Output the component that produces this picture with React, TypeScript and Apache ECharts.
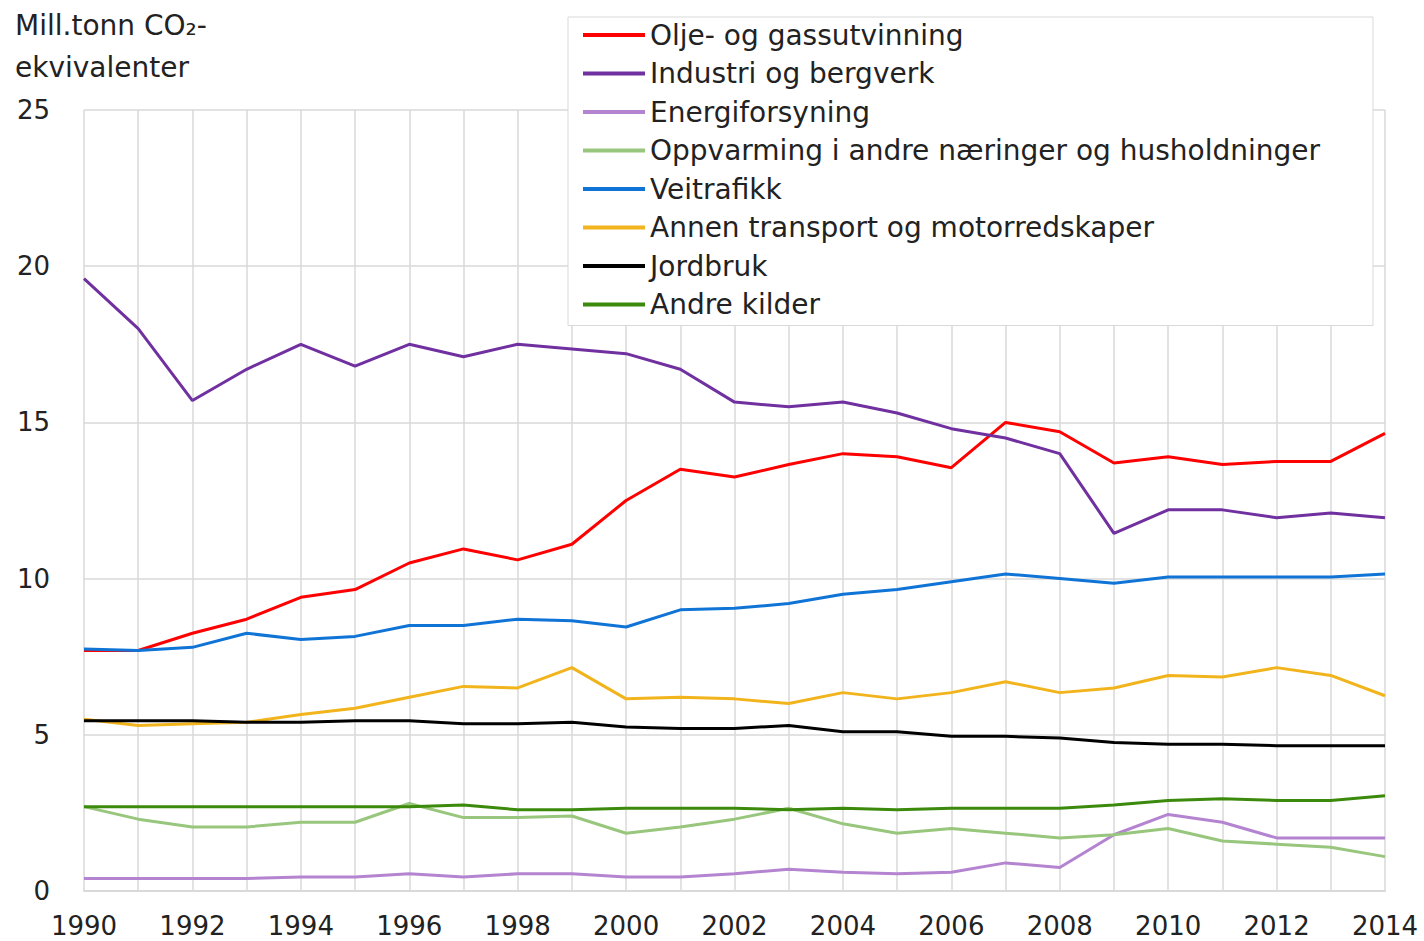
import React, { useEffect, useRef } from "react";
import * as echarts from "echarts";

const years = [
  "1990","1991","1992","1993","1994","1995","1996","1997","1998","1999","2000","2001","2002",
  "2003","2004","2005","2006","2007","2008","2009","2010","2011","2012","2013","2014",
];

const seriesNames = [
  "Olje- og gassutvinning",
  "Industri og bergverk",
  "Energiforsyning",
  "Oppvarming i andre næringer og husholdninger",
  "Veitrafikk",
  "Annen transport og motorredskaper",
  "Jordbruk",
  "Andre kilder",
];

const oljeGass = [7.7,7.7,8.25,8.7,9.4,9.65,10.5,10.95,10.6,11.1,12.5,13.5,13.25,13.65,14.0,13.9,13.55,15.0,14.7,13.7,13.9,13.65,13.75,13.75,14.65];
const industri = [19.6,18.0,15.7,16.7,17.5,16.8,17.5,17.1,17.5,17.35,17.2,16.7,15.65,15.5,15.65,15.3,14.8,14.5,14.0,11.45,12.2,12.2,11.95,12.1,11.95];
const energi = [0.4,0.4,0.4,0.4,0.45,0.45,0.55,0.45,0.55,0.55,0.45,0.45,0.55,0.7,0.6,0.55,0.6,0.9,0.75,1.8,2.45,2.2,1.7,1.7,1.7];
const oppvarming = [2.7,2.3,2.05,2.05,2.2,2.2,2.8,2.35,2.35,2.4,1.85,2.05,2.3,2.65,2.15,1.85,2.0,1.85,1.7,1.8,2.0,1.6,1.5,1.4,1.1];
const veitrafikk = [7.75,7.7,7.8,8.25,8.05,8.15,8.5,8.5,8.7,8.65,8.45,9.0,9.05,9.2,9.5,9.65,9.9,10.15,10.0,9.85,10.05,10.05,10.05,10.05,10.15];
const annenTransport = [5.5,5.3,5.35,5.4,5.65,5.85,6.2,6.55,6.5,7.15,6.15,6.2,6.15,6.0,6.35,6.15,6.35,6.7,6.35,6.5,6.9,6.85,7.15,6.9,6.25];
const jordbruk = [5.45,5.45,5.45,5.4,5.4,5.45,5.45,5.35,5.35,5.4,5.25,5.2,5.2,5.3,5.1,5.1,4.95,4.95,4.9,4.75,4.7,4.7,4.65,4.65,4.65];
const andreKilder = [2.7,2.7,2.7,2.7,2.7,2.7,2.7,2.75,2.6,2.6,2.65,2.65,2.65,2.6,2.65,2.6,2.65,2.65,2.65,2.75,2.9,2.95,2.9,2.9,3.05];

const seriesData = [oljeGass, industri, energi, oppvarming, veitrafikk, annenTransport, jordbruk, andreKilder];
const colors = ["#ff0000", "#7030a0", "#b484d0", "#97c67c", "#0f74d6", "#f2b41c", "#000000", "#3c8a0c"];

const yTicks = { min: 0, max: 25, interval: 5 };

export default function App() {
  const ref = useRef<HTMLDivElement>(null);
  useEffect(() => {
    if (!ref.current) return;
    document.body.style.margin = "0";
    const chart = echarts.init(ref.current, null, { renderer: "svg" });
    const font = "'DejaVu Sans', sans-serif";
    const fs = 26;
    const fsText = 28;
    chart.setOption({
      animation: false,
      backgroundColor: "#ffffff",
      textStyle: { fontFamily: font },
      title: {
        text: "Mill.tonn CO₂-\nekvivalenter",
        left: 15,
        top: 4,
        padding: 0,
        textStyle: { fontFamily: font, fontSize: fsText, fontWeight: "normal", color: "#222", lineHeight: 42 },
      },
      legend: {
        orient: "vertical",
        left: 568,
        top: 17,
        padding: [3, 53, 6, 15],
        backgroundColor: "#ffffff",
        borderColor: "#d9d9d9",
        borderWidth: 1,
        itemWidth: 62,
        itemHeight: 4,
        itemGap: 8.5,
        icon: "rect",
        textStyle: { fontFamily: font, fontSize: fsText, color: "#222", lineHeight: 30 },
        data: seriesNames,
      },
      grid: { left: 84, right: 39, top: 110, bottom: 50, containLabel: false },
      xAxis: {
        type: "category",
        data: years,
        boundaryGap: false,
        axisLine: { lineStyle: { color: "#d9d9d9", width: 2 } },
        axisTick: { show: false },
        axisLabel: { interval: 1, fontSize: fs, color: "#222", margin: 22, fontFamily: font },
        splitLine: { show: true, interval: 0, lineStyle: { color: "#d9d9d9", width: 1.5 } },
      },
      yAxis: {
        type: "value",
        min: yTicks.min,
        max: yTicks.max,
        interval: yTicks.interval,
        axisLine: { show: false },
        axisTick: { show: false },
        axisLabel: { fontSize: fs, color: "#222", margin: 34, fontFamily: font },
        splitLine: { lineStyle: { color: "#d9d9d9", width: 1.5 } },
      },
      series: seriesNames.map((name, i) => ({
        name,
        type: "line",
        data: seriesData[i],
        symbol: "none",
        color: colors[i],
        lineStyle: { width: 3, color: colors[i] },
      })),
    });
    return () => chart.dispose();
  }, []);
  return <div ref={ref} style={{ width: 1424, height: 941 }} />;
}
